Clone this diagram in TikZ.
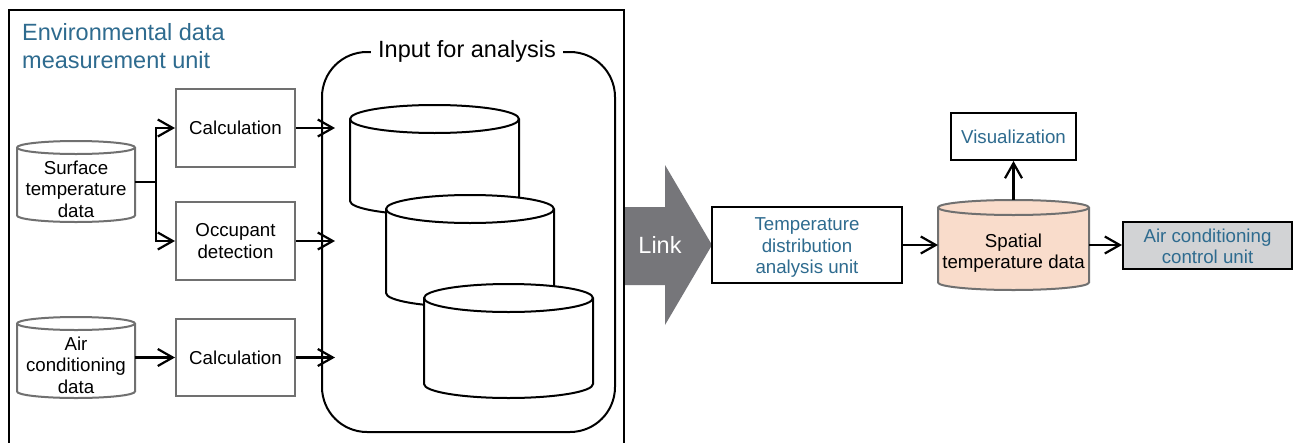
\documentclass[tikz,border=0pt]{standalone}
\usepackage{fontspec}
\setmainfont{Liberation Sans}
\usetikzlibrary{arrows.meta}

\definecolor{unitblue}{RGB}{46,107,143}
\definecolor{boxgray}{RGB}{112,112,112}
\definecolor{linkgray}{RGB}{118,118,122}
\definecolor{peach}{RGB}{249,220,203}
\definecolor{accgray}{RGB}{210,211,213}

% upright cylinder: #1 style, #2 centre x, #3 top y, #4 bottom y, #5 x radius, #6 y radius of the caps
\newcommand\drawdrum[6]{%
  \draw[#1] ({#2-#5},{-#3-#6}) -- ({#2-#5},{-#4+#6})
    arc[start angle=180,end angle=360,x radius=#5pt,y radius=#6pt]
    -- ({#2+#5},{-#3-#6})
    arc[start angle=0,end angle=180,x radius=#5pt,y radius=#6pt] -- cycle;
  \draw[#1,fill=none] ({#2-#5},{-#3-#6})
    arc[start angle=180,end angle=360,x radius=#5pt,y radius=#6pt];
}

\begin{document}
\begin{tikzpicture}[x=1pt,y=1pt,
  body/.style={font=\fontsize{18.7}{21.5}\selectfont, align=center, inner sep=0pt},
  big/.style={font=\fontsize{23.5}{28}\selectfont, inner sep=0pt},
  graybox/.style={body, draw=boxgray, line width=2pt, fill=white},
  blackbox/.style={body, draw=black, line width=2pt, fill=white, text=unitblue},
  graydrum/.style={draw=boxgray, line width=2pt, fill=white},
  blackdrum/.style={draw=black, line width=2pt, fill=white},
  spot/.style={inner sep=0pt, outer sep=0pt},
  conn/.style={draw=black, line width=2.2pt},
  >={Straight Barb[length=15pt,width=17pt]}
]
\fill[white] (0,0) rectangle (1293,-442);
\useasboundingbox (0,0) rectangle (1293,-442);

% link arrow between the two units
\fill[linkgray] (624,-207) -- (665,-207) -- (665,-165) -- (712,-245)
  -- (665,-325) -- (665,-285) -- (624,-285) -- cycle;
\node[big, text=white] (link) at (660,-245) {Link};

% environmental data measurement unit frame
\draw[line width=2pt] (9,-444) -- (9,-10) -- (624,-10) -- (624,-444);
\node[big, text=unitblue, anchor=north west, align=left] (unit) at (22,-23)
  {Environmental data\\measurement unit};

% input for analysis container
\draw[line width=2pt, rounded corners=45pt] (322,-52) rectangle (615,-432);
\node[big, fill=white, inner xsep=7pt, inner ysep=2pt, anchor=base] (inp) at (467,-57)
  {Input for analysis};
\drawdrum{blackdrum}{434.5}{105}{215}{84.5}{14}
\drawdrum{blackdrum}{470}{195}{307}{84}{14}
\drawdrum{blackdrum}{508.5}{284}{398}{84.5}{14}

% raw data sources
\drawdrum{graydrum}{76}{141}{222}{59}{6.5}
\node[spot, minimum width=118pt, minimum height=81pt] (surf) at (76,-182) {};
\node[body] (surftxt) at (76,-189) {Surface\\temperature\\data};
\drawdrum{graydrum}{76}{317}{398}{59}{6.5}
\node[spot, minimum width=118pt, minimum height=81pt] (air) at (76,-357.5) {};
\node[body] (airtxt) at (76,-365) {Air\\conditioning\\data};

% processing steps
\node[graybox, minimum width=119pt, minimum height=78pt] (calc1) at (235.5,-128) {Calculation};
\node[graybox, minimum width=119pt, minimum height=78pt] (occ) at (235.5,-241) {Occupant\\detection};
\node[graybox, minimum width=119pt, minimum height=77pt] (calc2) at (235.5,-357.5) {Calculation};

% analysis side
\node[blackbox, minimum width=190pt, minimum height=76pt] (tda) at (807,-245) {};
\node[body, text=unitblue] (tdatxt) at (807,-248) {Temperature\\distribution\\analysis unit};
\drawdrum{graydrum, fill=peach}{1013.5}{200}{290}{75.5}{7.5}
\node[spot, minimum width=151pt, minimum height=90pt] (spatial) at (1013.5,-245) {};
\node[body] (spatialtxt) at (1013.5,-253) {Spatial\\temperature data};
\node[blackbox, minimum width=125pt, minimum height=47pt] (vis) at (1013.5,-136.5) {Visualization};
\node[blackbox, fill=accgray, minimum width=169pt, minimum height=47pt] (acc) at (1207.5,-245) {};
\node[body, text=unitblue] (acctxt) at (1207.5,-246.5) {Air conditioning\\control unit};

% connectors
\draw[conn] (surf.east) -- ++(21,0) coordinate (split);
\draw[conn,->] (split) |- (calc1.west);
\draw[conn,->] (split) |- (occ.west);
\draw[conn,->] (air.east) -- (calc2.west);
\coordinate (inx) at (335,0);
\draw[conn,->] (calc1.east) -- (calc1.east -| inx);
\draw[conn,->] (occ.east) -- (occ.east -| inx);
\draw[conn,->] (calc2.east) -- (calc2.east -| inx);
\draw[conn,->] (tda.east) -- (spatial.west);
\draw[conn,->] (spatial.north) -- (vis.south);
\draw[conn,->] (spatial.east) -- (acc.west);
\end{tikzpicture}
\end{document}
